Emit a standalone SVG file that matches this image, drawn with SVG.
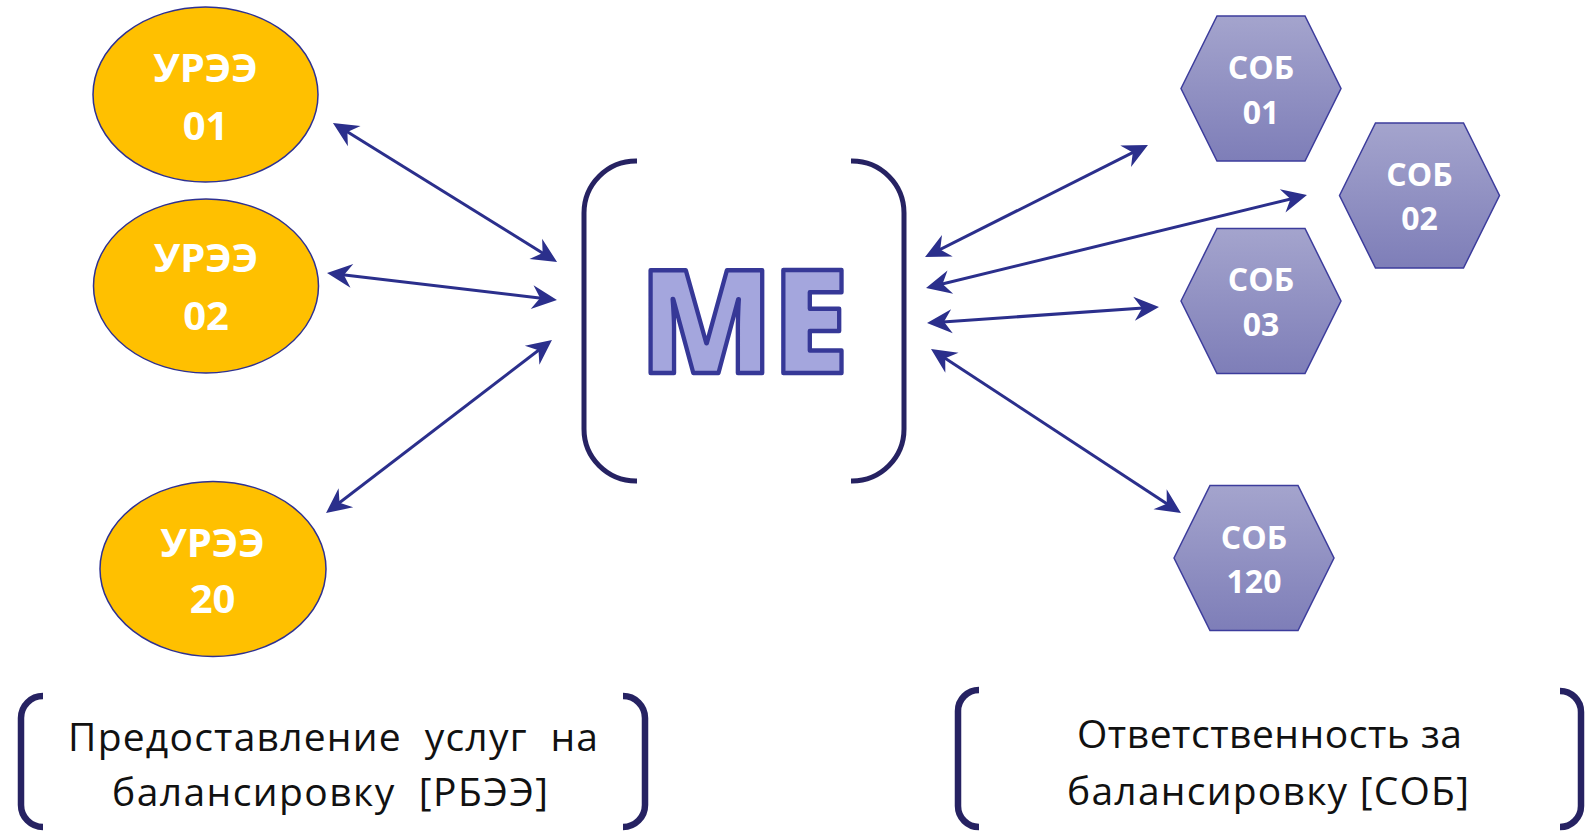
<svg xmlns="http://www.w3.org/2000/svg" width="1588" height="833" viewBox="0 0 1588 833">
<style>
.ell{fill:#ffc000;stroke:#2e3192;stroke-width:1.5}
.hex{fill:url(#hg);stroke:#3c3c9c;stroke-width:1.5}
.wt{font-family:"Open Sans","Noto Sans",sans-serif;font-weight:700;fill:#ffffff;text-anchor:middle}
.e{font-size:40px}
.h{font-size:32px}
.br{fill:none;stroke:#262262;stroke-linecap:butt}
.lbl{font-family:"Open Sans","Noto Sans",sans-serif;font-size:39px;fill:#111111;white-space:pre}
.con{stroke:#2b2f8c;stroke-width:3;fill:none;marker-start:url(#ah);marker-end:url(#ah)}
</style>
<defs>
<linearGradient id="hg" x1="0" y1="0" x2="0" y2="1">
<stop offset="0" stop-color="#a4a4cd"/>
<stop offset="1" stop-color="#7e7eb8"/>
</linearGradient>
<marker id="ah" markerUnits="userSpaceOnUse" viewBox="-30 -15 36 30" markerWidth="36" markerHeight="30" refX="-5" refY="0" orient="auto-start-reverse">
<path d="M0,0 L-25,-12 L-17,0 L-25,12 Z" fill="#2b2f8c"/>
</marker>
</defs>
<rect width="1588" height="833" fill="#ffffff"/>

<g id="connectors">
<line class="con" x1="337.2" y1="125.6" x2="552.8" y2="259.4"/>
<line class="con" x1="332" y1="273.6" x2="552" y2="299.4"/>
<line class="con" x1="330" y1="510" x2="548" y2="343"/>
<line class="con" x1="929.5" y1="254.8" x2="1143.5" y2="147.2"/>
<line class="con" x1="930.9" y1="286.8" x2="1302.1" y2="196.2"/>
<line class="con" x1="932" y1="322.7" x2="1154" y2="307.3"/>
<line class="con" x1="935.2" y1="351.7" x2="1176.8" y2="510.3"/>
</g>

<g id="uree01">
<ellipse class="ell" cx="205.5" cy="94.5" rx="112.5" ry="87.5"/>
<text class="wt e" x="205.5" y="82">УРЭЭ</text>
<text class="wt e" x="205.5" y="140">01</text>
</g>
<g id="uree02">
<ellipse class="ell" cx="206" cy="286" rx="112.5" ry="87"/>
<text class="wt e" x="206" y="272">УРЭЭ</text>
<text class="wt e" x="206" y="330">02</text>
</g>
<g id="uree20">
<ellipse class="ell" cx="213" cy="569" rx="113" ry="87.5"/>
<text class="wt e" x="212.5" y="557">УРЭЭ</text>
<text class="wt e" x="212.5" y="613">20</text>
</g>

<g id="me">
<path class="br" stroke-width="5" d="M637,161 L636,161 A52,52 0 0 0 584,213 V429 A52,52 0 0 0 636,481 L637,481"/>
<path class="br" stroke-width="5" d="M851,161 L852,161 A52,52 0 0 1 904,213 V429 A52,52 0 0 1 852,481 L851,481"/>
<text x="744" y="373" text-anchor="middle" font-family="Open Sans, Noto Sans, sans-serif" font-weight="800" font-size="143" fill="#a4a6dd" stroke="#363897" stroke-width="4.5" stroke-linejoin="round" textLength="208" lengthAdjust="spacingAndGlyphs">ME</text>
</g>

<g id="sob01">
<polygon class="hex" points="1181,88.5 1217,16 1305,16 1341,88.5 1305,161 1217,161"/>
<text class="wt h" x="1261" y="79">СОБ</text>
<text class="wt h" x="1261" y="124">01</text>
</g>
<g id="sob02">
<polygon class="hex" points="1339.5,195.5 1375.5,123 1463.5,123 1499.5,195.5 1463.5,268 1375.5,268"/>
<text class="wt h" x="1419.5" y="186">СОБ</text>
<text class="wt h" x="1419.5" y="230">02</text>
</g>
<g id="sob03">
<polygon class="hex" points="1181,301 1217,228.5 1305,228.5 1341,301 1305,373.5 1217,373.5"/>
<text class="wt h" x="1261" y="291">СОБ</text>
<text class="wt h" x="1261" y="336">03</text>
</g>
<g id="sob120">
<polygon class="hex" points="1174,558 1210,485.5 1298,485.5 1334,558 1298,630.5 1210,630.5"/>
<text class="wt h" x="1254" y="549">СОБ</text>
<text class="wt h" x="1254" y="593">120</text>
</g>

<g id="label-rbee">
<path class="br" stroke-width="6.5" d="M43,696 A22,22 0 0 0 21,718 V805 A22,22 0 0 0 43,827"/>
<path class="br" stroke-width="6.5" d="M623,696 A22,22 0 0 1 645,718 V805 A22,22 0 0 1 623,827"/>
<text class="lbl" x="68" y="751" textLength="530" lengthAdjust="spacing">Предоставление  услуг  на</text>
<text class="lbl" x="112" y="806" textLength="436" lengthAdjust="spacing">балансировку  [РБЭЭ]</text>
</g>

<g id="label-sob">
<path class="br" stroke-width="6.5" d="M979,690 A21,21 0 0 0 958,711 V806 A21,21 0 0 0 979,827"/>
<path class="br" stroke-width="6.5" d="M1560,691 A21,21 0 0 1 1581,712 V806 A21,21 0 0 1 1560,827"/>
<text class="lbl" x="1077" y="748" textLength="385" lengthAdjust="spacing">Ответственность за</text>
<text class="lbl" x="1067" y="805" textLength="402" lengthAdjust="spacing">балансировку [СОБ]</text>
</g>
</svg>
